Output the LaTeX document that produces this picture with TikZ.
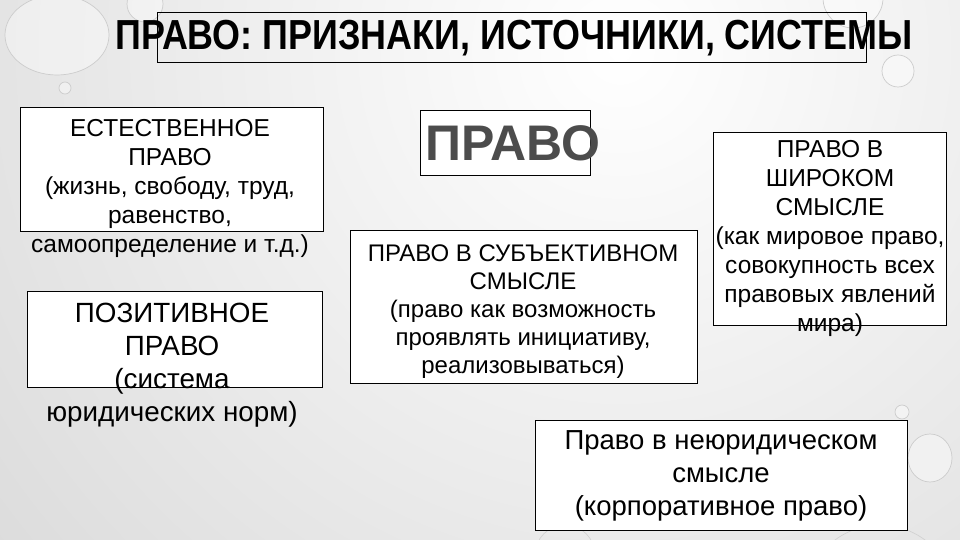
\documentclass[tikz,border=0pt]{standalone}
\usepackage{fontspec}
\setmainfont{Liberation Sans}
\newfontfamily\headfont[FakeStretch=0.855]{Liberation Sans Bold}
\usetikzlibrary{positioning}
\newcommand{\fsz}[2]{\fontsize{#1}{#2}\selectfont}
\tikzset{
  box/.style={draw=black, fill=white, line width=0.8pt, inner sep=0pt},
  txt/.style={align=center, inner sep=0pt, text=black},
  drop/.style={draw=gray!40, line width=0.7pt, fill=white, fill opacity=0.4}
}
\begin{document}
\begin{tikzpicture}[x=1pt, y=-1pt]
  % background
  \useasboundingbox (0,0) rectangle (960,540);
  \shade[inner color=white, outer color=gray!55] (-980,-1550) rectangle (2220,1650);
  % drops
  \draw[drop] (57,35) ellipse (52 and 40);
  \draw[drop] (65,88) circle (6);
  \draw[drop] (145,4) circle (18);
  \draw[drop] (853,-2) circle (30);
  \draw[drop] (898,71) circle (16);
  \draw[drop] (902,412) circle (7);
  \draw[drop] (930,458) ellipse (22 and 24);
  \draw[gray!35, line width=0.7pt] (880,600) circle (75);
  \draw[gray!35, line width=0.7pt] (565,555) circle (30);
  % title
  \node[box, fill=none, minimum width=709pt, minimum height=50pt] (titlebox) at (511.5,37) {};
  \node[txt, font=\headfont\fsz{42}{46}] (title) at (514,38) {ПРАВО: ПРИЗНАКИ, ИСТОЧНИКИ, СИСТЕМЫ};
  % left column
  \node[box, minimum width=303pt, minimum height=124pt] (natbox) at (171.5,169) {};
  \node[txt, font=\fsz{24.5}{29}] (nat) at (170,188.5) {ЕСТЕСТВЕННОЕ\\ПРАВО\\(жизнь, свободу, труд,\\равенство,\\самоопределение и т.д.)};
  \node[box, minimum width=295pt, minimum height=96pt] (posbox) at (174.5,339) {};
  \node[txt, font=\fsz{27.8}{33}] (pos) at (172,365) {ПОЗИТИВНОЕ\\ПРАВО\\(система\\юридических норм)};
  % middle
  \node[box, minimum width=170pt, minimum height=65pt] (lawbox) at (505,142.5) {};
  \node[txt, font=\bfseries\fsz{50}{56}, text=gray!60!black] (law) at (513,143) {ПРАВО};
  \node[box, minimum width=347pt, minimum height=153pt] (subjbox) at (523.5,306.5) {};
  \node[txt, font=\fsz{24}{28}] (subj) at (523,312) {ПРАВО В СУБЪЕКТИВНОМ\\СМЫСЛЕ\\(право как возможность\\проявлять инициативу,\\реализовываться)};
  % right
  \node[box, minimum width=233pt, minimum height=193pt] (widebox) at (829.5,228.5) {};
  \node[txt, font=\fsz{24.5}{29}] (wide) at (830,238) {ПРАВО В\\ШИРОКОМ\\СМЫСЛЕ\\(как мировое право,\\совокупность всех\\правовых явлений\\мира)};
  \node[box, minimum width=372pt, minimum height=110pt] (corpbox) at (721,475) {};
  \node[txt, font=\fsz{27.5}{33}] (corp) at (721,476) {Право в неюридическом\\смысле\\(корпоративное право)};
\end{tikzpicture}
\end{document}
